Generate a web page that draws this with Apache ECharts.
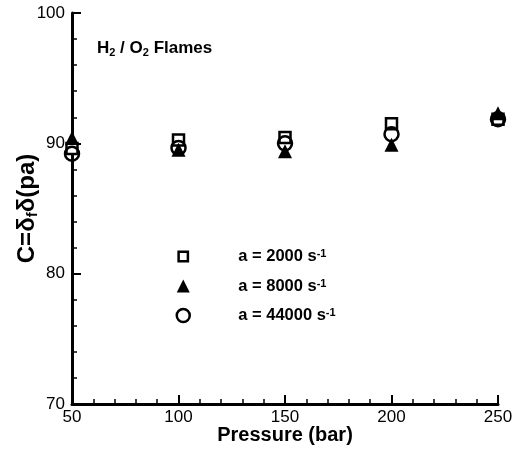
<!DOCTYPE html>
<html>
<head>
<meta charset="utf-8">
<script src="https://cdn.jsdelivr.net/npm/echarts@6/dist/echarts.min.js"></script>
<style>
  html, body { margin: 0; padding: 0; background: #fff; }
  #chart { width: 525px; height: 456px; }
</style>
</head>
<body>
<div id="chart"></div>
<script>
// Pressure values (bar) and the constant C for each strain rate
const pressure = [50, 100, 150, 200, 250];
const c2000 = [89.6, 90.25, 90.45, 91.5, 91.85];
const c8000 = [90.4, 89.5, 89.4, 89.9, 92.3];
const c44000 = [89.2, 89.65, 90.0, 90.7, 91.85];

const seriesNames = ['a = 2000 s', 'a = 8000 s', 'a = 44000 s'];
const xRange = [50, 250, 50];
const yRange = [70, 100, 10];

const FONT = '"Liberation Sans", Arial, Helvetica, sans-serif';

const pairs = vals => pressure.map((p, i) => [p, vals[i]]);

const axisCommon = {
  type: 'value',
  splitLine: { show: false },
  axisLine: { show: true, onZero: false, lineStyle: { color: '#000', width: 3 } },
  axisTick: { show: true, inside: true, length: 9, lineStyle: { color: '#000', width: 2 } },
  minorTick: { show: true, splitNumber: 5, length: 5, lineStyle: { color: '#000', width: 1.5 } },
  axisLabel: { color: '#000', fontSize: 17, fontFamily: FONT },
  nameLocation: 'middle',
  nameMoveOverlap: false,
  nameTextStyle: { color: '#000', fontSize: 20, fontWeight: 'bold', fontFamily: FONT }
};

const chart = echarts.init(document.getElementById('chart'), null, { renderer: 'canvas' });

chart.setOption({
  animation: false,
  backgroundColor: '#fff',
  grid: { left: 72, right: 27, top: 13, bottom: 52, containLabel: false, outerBoundsMode: 'none' },
  title: {
    left: 97,
    top: 38,
    padding: 0,
    text: 'H{sub|2} / O{sub|2} Flames',
    textStyle: {
      color: '#000', fontSize: 17, fontWeight: 'bold', fontFamily: FONT, lineHeight: 20,
      rich: {
        sub: { fontSize: 11, fontWeight: 'bold', fontFamily: FONT, color: '#000', verticalAlign: 'bottom', lineHeight: 11, padding: [3, 0, 0, 0] }
      }
    }
  },
  legend: {
    orient: 'vertical',
    left: 175.5,
    top: 248,
    padding: 0,
    itemWidth: 13,
    itemHeight: 13,
    itemGap: 12.5,
    selectedMode: false,
    data: [
      { name: seriesNames[0], icon: 'path://M0,0M14,14M2,2h10v10h-10z', itemStyle: { color: '#fff', borderColor: '#000', borderWidth: 2.5 } },
      { name: seriesNames[1], icon: 'triangle', itemStyle: { color: '#000', borderColor: '#000', borderWidth: 0 } },
      { name: seriesNames[2], icon: 'circle', itemStyle: { color: 'rgba(255,255,255,0)', borderColor: '#000', borderWidth: 2.5 } }
    ],
    formatter: name => '{gap|}' + name + '{sup|-1}',
    textStyle: {
      color: '#000', fontSize: 16.5, fontWeight: 'bold', fontFamily: FONT, lineHeight: 16,
      rich: {
        gap: { width: 43.5 },
        sup: { fontSize: 11, fontWeight: 'bold', fontFamily: FONT, color: '#000', verticalAlign: 'top', lineHeight: 11, padding: [0, 0, 4, 0] }
      }
    }
  },
  xAxis: Object.assign({}, axisCommon, {
    min: xRange[0], max: xRange[1], interval: xRange[2],
    axisLabel: Object.assign({}, axisCommon.axisLabel, { margin: 5 }),
    name: 'Pressure (bar)',
    nameGap: 21
  }),
  yAxis: Object.assign({}, axisCommon, {
    min: yRange[0], max: yRange[1], interval: yRange[2],
    axisLabel: Object.assign({}, axisCommon.axisLabel, { margin: 7 }),
    name: 'C=δ{sub|f}δ(pa)',
    nameGap: 32,
    nameRotate: 90,
    nameTextStyle: Object.assign({}, axisCommon.nameTextStyle, {
      fontSize: 24, lineHeight: 26,
      rich: {
        sub: { fontSize: 15, fontWeight: 'bold', fontFamily: FONT, color: '#000', verticalAlign: 'bottom', lineHeight: 15 }
      }
    })
  }),
  series: [
    {
      name: seriesNames[0], type: 'scatter', z: 2,
      symbol: 'rect', symbolSize: 11,
      itemStyle: { color: '#fff', borderColor: '#000', borderWidth: 2.5, opacity: 1 },
      data: pairs(c2000)
    },
    {
      name: seriesNames[1], type: 'scatter', z: 3,
      symbol: 'triangle', symbolSize: 14,
      itemStyle: { color: '#000', borderWidth: 0, opacity: 1 },
      data: pairs(c8000)
    },
    {
      name: seriesNames[2], type: 'scatter', z: 4,
      symbol: 'circle', symbolSize: 14,
      itemStyle: { color: 'rgba(255,255,255,0)', borderColor: '#000', borderWidth: 2.5, opacity: 1 },
      data: pairs(c44000)
    }
  ]
});
</script>
</body>
</html>
